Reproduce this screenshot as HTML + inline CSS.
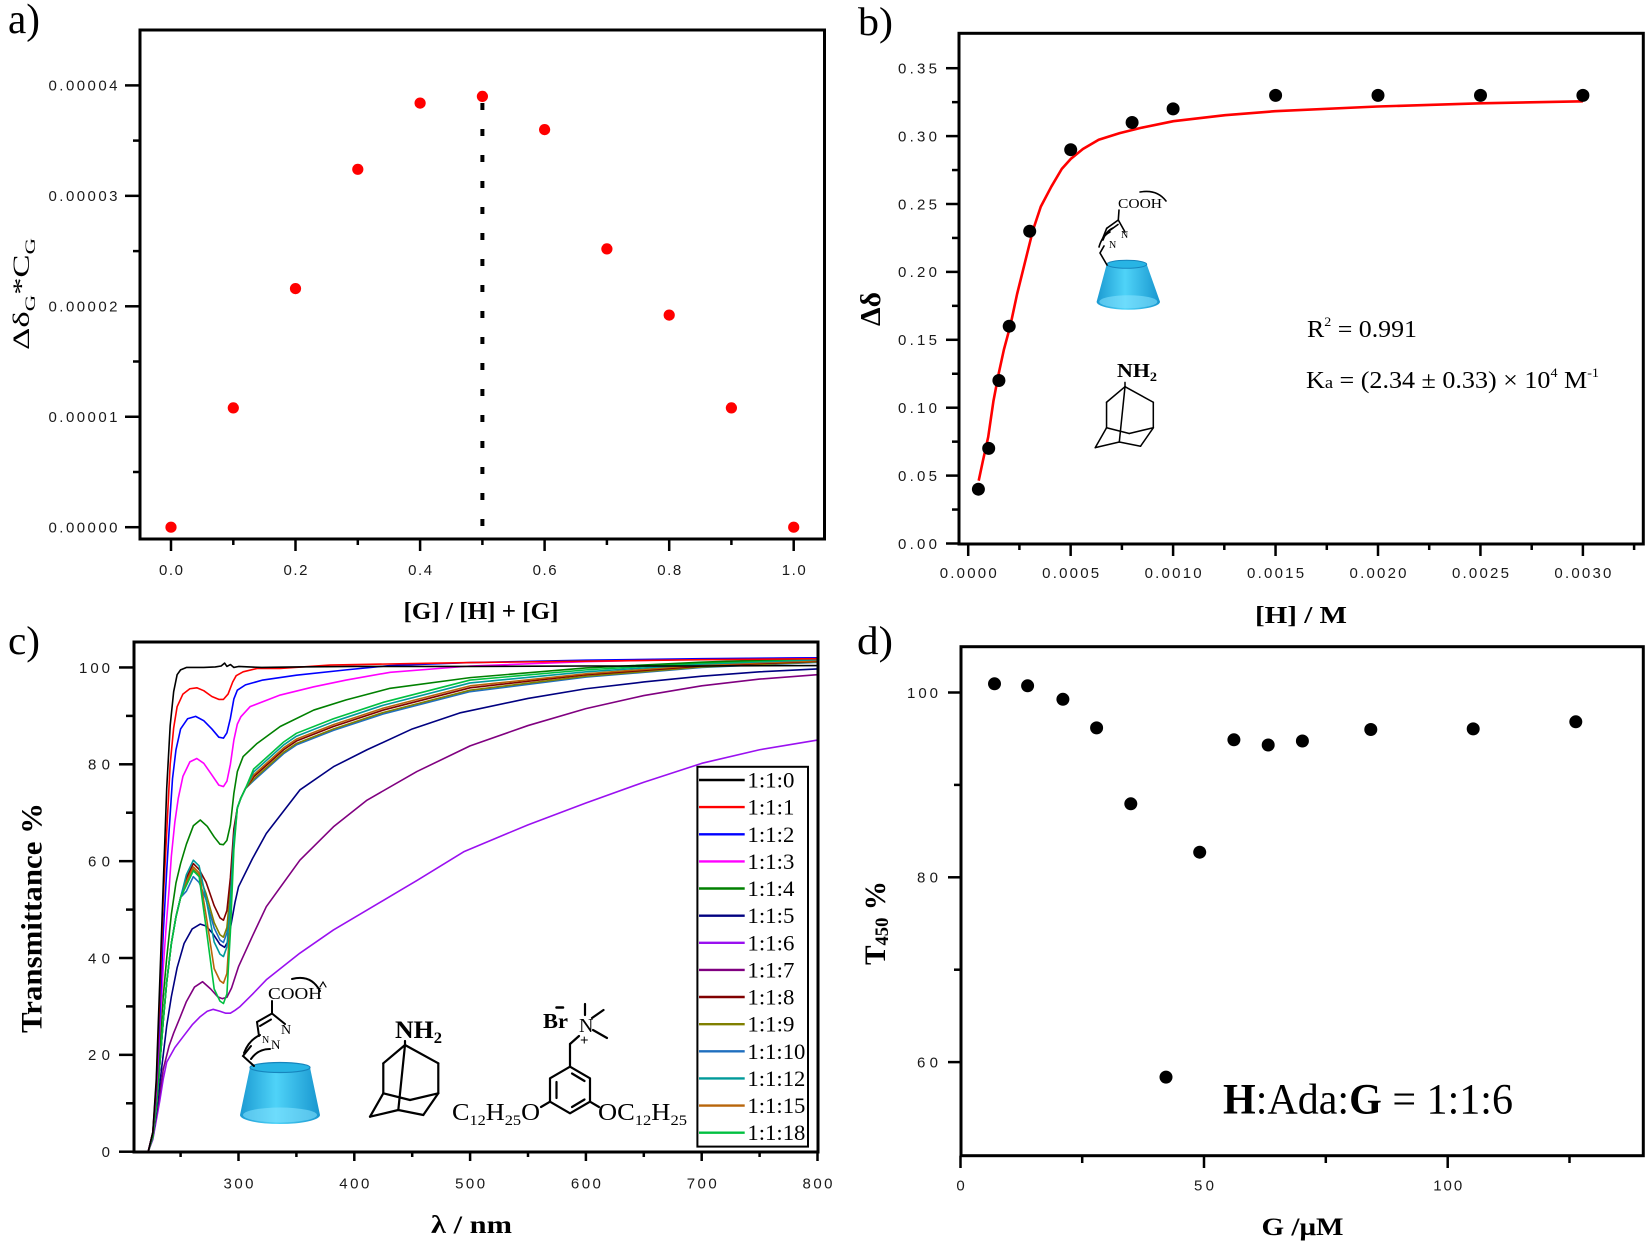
<!DOCTYPE html>
<html>
<head>
<meta charset="utf-8">
<style>
html,body{margin:0;padding:0;background:#fff;}
svg{display:block;}
.sp path{vector-effect:non-scaling-stroke;fill:none;stroke-width:1.6;stroke-linejoin:round;stroke-linecap:round;}
.tk{font-family:"Liberation Sans",Arial,sans-serif;fill:#1a1a1a;}
.sf{font-family:"Liberation Serif","Times New Roman",serif;fill:#000;}
</style>
</head>
<body>
<svg width="1650" height="1246" viewBox="0 0 1650 1246" xmlns="http://www.w3.org/2000/svg">
<defs>
<linearGradient id="cone" x1="0" x2="1" y1="0" y2="0">
<stop offset="0" stop-color="#1b9ad2"/>
<stop offset="0.45" stop-color="#4fd3f8"/>
<stop offset="1" stop-color="#1896cf"/>
</linearGradient>
</defs>
<rect width="1650" height="1246" fill="#fff"/>

<!-- ================= PANEL A ================= -->
<text class="sf" x="8" y="33" font-size="42" textLength="32" lengthAdjust="spacingAndGlyphs">a)</text>
<g stroke="#000" stroke-width="2.5">
<line x1="482.4" y1="103" x2="482.4" y2="527" stroke-width="4" stroke-dasharray="7 19"/>
</g>
<g fill="#ff0000">
<circle cx="171" cy="527.2" r="5.6"/>
<circle cx="233.3" cy="407.9" r="5.6"/>
<circle cx="295.5" cy="288.6" r="5.6"/>
<circle cx="357.8" cy="169.3" r="5.6"/>
<circle cx="420.1" cy="103.1" r="5.6"/>
<circle cx="482.4" cy="96.4" r="5.6"/>
<circle cx="544.6" cy="129.6" r="5.6"/>
<circle cx="606.9" cy="248.9" r="5.6"/>
<circle cx="669.2" cy="315.1" r="5.6"/>
<circle cx="731.4" cy="407.9" r="5.6"/>
<circle cx="793.7" cy="527.2" r="5.6"/>
</g>
<rect x="140" y="30" width="684.5" height="509" fill="none" stroke="#000" stroke-width="3"/>
<g stroke="#000" stroke-width="2.5">
<line x1="125" y1="527.2" x2="140" y2="527.2"/>
<line x1="125" y1="416.75" x2="140" y2="416.75"/>
<line x1="125" y1="306.3" x2="140" y2="306.3"/>
<line x1="125" y1="195.85" x2="140" y2="195.85"/>
<line x1="125" y1="85.4" x2="140" y2="85.4"/>
<line x1="133" y1="472" x2="140" y2="472"/>
<line x1="133" y1="361.5" x2="140" y2="361.5"/>
<line x1="133" y1="251.1" x2="140" y2="251.1"/>
<line x1="133" y1="140.6" x2="140" y2="140.6"/>
<line x1="171" y1="539" x2="171" y2="551"/>
<line x1="295.5" y1="539" x2="295.5" y2="551"/>
<line x1="420.1" y1="539" x2="420.1" y2="551"/>
<line x1="544.6" y1="539" x2="544.6" y2="551"/>
<line x1="669.2" y1="539" x2="669.2" y2="551"/>
<line x1="793.7" y1="539" x2="793.7" y2="551"/>
<line x1="233.3" y1="539" x2="233.3" y2="545"/>
<line x1="357.8" y1="539" x2="357.8" y2="545"/>
<line x1="482.4" y1="539" x2="482.4" y2="545"/>
<line x1="606.9" y1="539" x2="606.9" y2="545"/>
<line x1="731.4" y1="539" x2="731.4" y2="545"/>
</g>
<g class="tk" font-size="15" text-anchor="end">
<text x="117.5" y="532.5" textLength="69">0.00000</text>
<text x="117.5" y="422" textLength="69">0.00001</text>
<text x="117.5" y="311.6" textLength="69">0.00002</text>
<text x="117.5" y="201.1" textLength="69">0.00003</text>
<text x="117.5" y="90.7" textLength="69">0.00004</text>
</g>
<g class="tk" font-size="15" text-anchor="middle">
<text x="171" y="575" textLength="24">0.0</text>
<text x="295.5" y="575" textLength="24">0.2</text>
<text x="420.1" y="575" textLength="24">0.4</text>
<text x="544.6" y="575" textLength="24">0.6</text>
<text x="669.2" y="575" textLength="24">0.8</text>
<text x="793.7" y="575" textLength="24">1.0</text>
</g>
<text class="sf" x="481" y="619" font-size="24" font-weight="bold" text-anchor="middle" textLength="155" lengthAdjust="spacingAndGlyphs">[G] / [H] + [G]</text>
<text class="sf" transform="translate(29,350) rotate(-90)" font-size="23" textLength="112" lengthAdjust="spacingAndGlyphs">Δδ<tspan font-size="15" dy="6">G</tspan><tspan dy="-6">*C</tspan><tspan font-size="15" dy="6">G</tspan></text>

<!-- ================= PANEL B ================= -->
<text class="sf" x="858" y="35" font-size="40" textLength="35" lengthAdjust="spacingAndGlyphs">b)</text>
<polyline fill="none" stroke="#ff0000" stroke-width="2.6" stroke-linejoin="round" points="978.7,480.7 982.9,460.9 988.2,437 993.4,401.3 998.7,373.5 1003.9,349.6 1010.3,325.8 1017.1,294 1025,262.2 1032.9,230.4 1040.8,206.6 1051.3,186.7 1061.8,168.9 1070.8,158.9 1082.9,149 1098.7,139.8 1119.7,133.1 1140.8,127.9 1173.4,121.2 1225,115.2 1275,111.2 1377.6,106.5 1480.3,103.3 1582.9,101.3"/>
<g fill="#000">
<circle cx="978.4" cy="489.2" r="6.5"/>
<circle cx="988.7" cy="448.4" r="6.5"/>
<circle cx="998.9" cy="380.5" r="6.5"/>
<circle cx="1009.2" cy="326.2" r="6.5"/>
<circle cx="1029.7" cy="231.2" r="6.5"/>
<circle cx="1070.7" cy="149.7" r="6.5"/>
<circle cx="1132.1" cy="122.5" r="6.5"/>
<circle cx="1173.1" cy="108.9" r="6.5"/>
<circle cx="1275.6" cy="95.4" r="6.5"/>
<circle cx="1378" cy="95.4" r="6.5"/>
<circle cx="1480.5" cy="95.4" r="6.5"/>
<circle cx="1582.9" cy="95.4" r="6.5"/>
</g>
<rect x="959" y="33.3" width="684.3" height="510.7" fill="none" stroke="#000" stroke-width="3"/>
<g stroke="#000" stroke-width="2.5">
<line x1="946" y1="543.5" x2="959" y2="543.5"/>
<line x1="946" y1="475.6" x2="959" y2="475.6"/>
<line x1="946" y1="407.7" x2="959" y2="407.7"/>
<line x1="946" y1="339.8" x2="959" y2="339.8"/>
<line x1="946" y1="271.9" x2="959" y2="271.9"/>
<line x1="946" y1="204" x2="959" y2="204"/>
<line x1="946" y1="136.1" x2="959" y2="136.1"/>
<line x1="946" y1="68.2" x2="959" y2="68.2"/>
<line x1="952" y1="509.55" x2="959" y2="509.55"/>
<line x1="952" y1="441.65" x2="959" y2="441.65"/>
<line x1="952" y1="373.75" x2="959" y2="373.75"/>
<line x1="952" y1="305.85" x2="959" y2="305.85"/>
<line x1="952" y1="237.95" x2="959" y2="237.95"/>
<line x1="952" y1="170.05" x2="959" y2="170.05"/>
<line x1="952" y1="102.15" x2="959" y2="102.15"/>
<line x1="968.2" y1="544" x2="968.2" y2="556"/>
<line x1="1070.65" y1="544" x2="1070.65" y2="556"/>
<line x1="1173.1" y1="544" x2="1173.1" y2="556"/>
<line x1="1275.55" y1="544" x2="1275.55" y2="556"/>
<line x1="1378" y1="544" x2="1378" y2="556"/>
<line x1="1480.45" y1="544" x2="1480.45" y2="556"/>
<line x1="1582.9" y1="544" x2="1582.9" y2="556"/>
<line x1="1019.4" y1="544" x2="1019.4" y2="550"/>
<line x1="1121.9" y1="544" x2="1121.9" y2="550"/>
<line x1="1224.3" y1="544" x2="1224.3" y2="550"/>
<line x1="1326.8" y1="544" x2="1326.8" y2="550"/>
<line x1="1429.2" y1="544" x2="1429.2" y2="550"/>
<line x1="1531.7" y1="544" x2="1531.7" y2="550"/>
<line x1="1634.1" y1="544" x2="1634.1" y2="550"/>
</g>
<g class="tk" font-size="15" text-anchor="end">
<text x="937" y="548.8" textLength="39">0.00</text>
<text x="937" y="480.9" textLength="39">0.05</text>
<text x="937" y="413" textLength="39">0.10</text>
<text x="937" y="345.1" textLength="39">0.15</text>
<text x="937" y="277.2" textLength="39">0.20</text>
<text x="937" y="209.3" textLength="39">0.25</text>
<text x="937" y="141.4" textLength="39">0.30</text>
<text x="937" y="73.5" textLength="39">0.35</text>
</g>
<g class="tk" font-size="15" text-anchor="middle">
<text x="968.2" y="578" textLength="57">0.0000</text>
<text x="1070.65" y="578" textLength="57">0.0005</text>
<text x="1173.1" y="578" textLength="57">0.0010</text>
<text x="1275.55" y="578" textLength="57">0.0015</text>
<text x="1378" y="578" textLength="57">0.0020</text>
<text x="1480.45" y="578" textLength="57">0.0025</text>
<text x="1582.9" y="578" textLength="57">0.0030</text>
</g>
<text class="sf" x="1301" y="623" font-size="24" font-weight="bold" text-anchor="middle" textLength="92" lengthAdjust="spacingAndGlyphs">[H] / M</text>
<text class="sf" transform="translate(880,326) rotate(-90)" font-size="28" font-weight="bold" textLength="34" lengthAdjust="spacingAndGlyphs">Δδ</text>
<text class="sf" x="1307" y="337" font-size="24" textLength="110" lengthAdjust="spacingAndGlyphs">R<tspan font-size="13" dy="-11">2</tspan><tspan dy="11"> = 0.991</tspan></text>
<text class="sf" x="1306" y="388" font-size="24" textLength="293" lengthAdjust="spacingAndGlyphs">K<tspan font-size="17">a</tspan> = (2.34 ± 0.33) × 10<tspan font-size="13" dy="-11">4</tspan><tspan dy="11"> M</tspan><tspan font-size="13" dy="-11">-1</tspan></text>

<!-- b molecules: CD -->
<path d="M1106.7,264.3 L1096.6,301.7 A31.7,8 0 0 0 1160,301.7 L1146.7,264.3 A20,4 0 0 0 1106.7,264.3 Z" fill="url(#cone)"/>
<ellipse cx="1128.3" cy="301.7" rx="29" ry="6.5" fill="#86e4ff" opacity="0.55"/>
<ellipse cx="1126.7" cy="264.3" rx="20" ry="4" fill="#28b4e4" stroke="#1685bd" stroke-width="1"/>
<g stroke="#000" stroke-width="1.6" fill="none" stroke-linecap="round">
<polyline points="1107,265 1100,253 1104,246"/>
<path d="M1099,247 Q1102,236 1110,232"/>
<path d="M1103,240 Q1106,231 1113,228"/>
<line x1="1106.7" y1="228.3" x2="1118.3" y2="220"/>
<line x1="1109" y1="231" x2="1118" y2="224.5"/>
<line x1="1118.3" y1="220" x2="1125" y2="232"/>
<line x1="1106.7" y1="228.3" x2="1102" y2="240"/>
<line x1="1118.3" y1="220" x2="1119" y2="210"/>
<path d="M1140,192 Q1157,189 1166,201"/>
</g>
<text class="sf" x="1118" y="208" font-size="14" textLength="44" lengthAdjust="spacingAndGlyphs">COOH</text>
<text class="sf" x="1121" y="238" font-size="10">N</text>
<text class="sf" x="1109" y="248" font-size="10">N</text>
<!-- b adamantane -->
<text class="sf" x="1117" y="377" font-size="20" font-weight="bold" textLength="40" lengthAdjust="spacingAndGlyphs">NH<tspan font-size="13" dy="4">2</tspan></text>
<g stroke="#000" stroke-width="1.8" fill="none" stroke-linecap="round" stroke-linejoin="round" transform="translate(1125,386.7) scale(0.85)">
<line x1="0" y1="0" x2="-21.7" y2="18.3"/>
<line x1="0" y1="0" x2="33.3" y2="18.3"/>
<line x1="0" y1="0" x2="-6.7" y2="65"/>
<line x1="-21.7" y1="18.3" x2="-21.7" y2="48.3"/>
<line x1="33.3" y1="18.3" x2="33.3" y2="48.3"/>
<line x1="-21.7" y1="48.3" x2="5" y2="55"/>
<line x1="5" y1="55" x2="33.3" y2="48.3"/>
<line x1="-21.7" y1="48.3" x2="-35" y2="71.7"/>
<line x1="-35" y1="71.7" x2="-6.7" y2="65"/>
<line x1="-6.7" y1="65" x2="18.3" y2="70"/>
<line x1="18.3" y1="70" x2="33.3" y2="48.3"/>
<line x1="0" y1="0" x2="0" y2="-5"/>
</g>

<!-- ================= PANEL C ================= -->
<text class="sf" x="8" y="654" font-size="40" textLength="32" lengthAdjust="spacingAndGlyphs">c)</text>
<g class="sp" transform="matrix(1.158,0,0,-4.8425,-108.9,1151.7)">
<path stroke="#9a10f0" d="M222,0 L226,2.5 229,6.5 232,10.5 235,15 238,18.5 245,21.5 252,23.7 260,26.2 267,27.9 273,29 278,29.4 284,29 289,28.6 293,28.6 297,29.2 301,29.9 312,32.5 324,35.5 353,41 382,45.8 411,49.9 454,56 495,62 550,67.5 600,72 650,76.3 700,80.2 750,83 800,85"/>
<path stroke="#800080" d="M222,0 L226,3 229,7.5 232,12 235,17 240,21.8 244,24.5 250,28 255,31 262,34 269,35.1 276,33.6 282,32 286,31.6 290,31.9 294,33.8 300,38.2 312,44.5 324,50.6 353,60.2 382,67.1 411,72.6 454,78.5 500,83.8 550,88 600,91.5 650,94.2 700,96.2 750,97.6 800,98.5"/>
<path stroke="#000080" d="M222,0 L226,3 229,8 232,14 235,20 238,26 242,32 247,38 253,43 260,46 267,47 272,46.6 278,45 284,42.8 288,42.2 291,43.5 294,47.5 297,51.5 300,54.7 312,60.5 324,65.7 353,74.7 382,79.5 411,83 450,87.3 491,90.6 550,93.6 600,95.6 650,97 700,98.2 750,99.1 800,99.7"/>
<path stroke="#1f6fbf" d="M222,0 L226,3 229,9 232,18 235,27 238,35 242,43 246,48.5 250,52.5 255,53.8 261,56.8 266,55.6 272,52 279,46.2 284,43.7 287,43.2 290,45.2 293,53.6 296,65.55 299,71 302,73 306,75 313,76.6 339,82.2 350,84 382,87 425,90.4 500,95 600,98 700,100 800,101.06"/>
<path stroke="#808000" d="M222,0 L226,3 229,9 232,18 235,27 238,35 242,43 246,48.5 250,52.5 255,55.3 261,58.3 266,57.1 272,53.3 279,47.3 284,44.8 287,44.3 290,46.3 293,54.3 296,65.8 299,71 302,73 306,75 313,76.9 339,82.5 350,84.3 382,87.3 425,90.7 500,95.3 600,98.2 700,100.1 800,101.15"/>
<path stroke="#800000" d="M222,0 L226,3 229,9 232,18 235,27 238,35 242,43 246,48.5 250,52.5 255,56.5 261,59.5 266,58.3 272,55.65 279,50.8 284,48.3 287,47.8 290,49.8 293,56.6 296,66.7 299,71 302,73 306,75 313,77.4 339,83 350,84.8 382,87.8 425,91.2 500,95.8 600,98.5 700,100.3 800,101.3"/>
<path stroke="#b8650a" d="M222,0 L226,3 229,9 232,18 235,27 238,35 242,43 246,48.5 250,52.5 255,55.8 261,58.8 266,57.6 272,48.8 279,37.8 284,35.3 287,34.8 290,36.8 293,48.2 296,63.45 299,71 302,73 306,75 313,77.8 339,83.4 350,85.2 382,88.2 425,91.6 500,96.2 600,98.7 700,100.5 800,101.4"/>
<path stroke="#009a9a" d="M222,0 L226,3 229,9 232,18 235,27 238,35 242,43 246,48.5 250,52.5 255,57.2 261,60.2 266,59 272,52.25 279,43.3 284,40.8 287,40.3 290,42.3 293,51.7 296,64.8 299,71 302,73 306,75 313,78.4 339,84 350,85.8 382,88.8 425,92.2 500,96.8 600,99.1 700,100.7 800,101.6"/>
<path stroke="#00c040" d="M222,0 L226,3 229,9 232,18 235,27 238,35 242,43 246,48.5 250,52.5 255,55 261,58 266,56.8 272,46.3 279,33.6 284,31.1 287,30.6 290,32.6 293,45.4 296,62.4 299,71 302,73 306,75 313,79 339,84.6 350,86.4 382,89.4 425,92.8 500,97.4 600,99.5 700,100.9 800,101.8"/>
<path stroke="#008000" d="M222,0 L226,3.5 229,11 232,22 235,32 238,40 242,49 246,55.5 250,59.5 255,63.5 261,67.3 267,68.5 273,67.2 279,65 284,63.5 287,63.4 290,64.3 293,67.5 296,74 299,78.5 304,81.6 316,84.3 336,87.8 365,91.2 393,93.3 431,95.7 500,97.9 600,99.9 700,101.1 800,101.9"/>
<path stroke="#ff00ff" d="M222,0 L226,4 229,12 232,25 235,38 238,48 240,54 242,61 245,68 248,73 252,77.5 258,80.5 264,81.2 270,80.2 277,77.8 283,75.7 287,75.4 290,76.5 293,80 296,85 299,88.3 302,89.8 310,91.9 336,94.3 365,96 393,97.4 431,99 500,100.3 600,101.2 700,101.7 800,102"/>
<path stroke="#0000ff" d="M222,0 L226,4 229,13 232,28 235,45 238,58 240,66 243,77 246,83 250,87.3 256,89.4 263,89.9 270,89 277,87.3 283,85.6 287,85.4 290,86.5 293,89.5 296,93.5 299,95.3 306,96.4 321,97.4 350,98.4 393,99.5 431,100.4 500,101 600,101.5 700,101.8 800,102"/>
<path stroke="#ff0000" d="M222,0 L226,4 229,14 232,32 235,52 238,66 241,80 244,87.5 247,91.9 252,94.5 258,95.6 264,95.8 270,95.2 277,94 283,93.4 287,93.4 291,94.5 295,97 298,98.3 304,99.1 316,99.8 336,99.8 379,100.5 450,100.8 500,101 600,101.3 700,101.6 800,101.8"/>
<path stroke="#000000" d="M222,0 L226,4 229,15 232,35 235,55 238,75 241,88 244,95 247,98.5 250,99.5 255,100 270,100 280,100.1 285,100.3 288,100.9 290,100.2 293,100.6 296,100 300,100.2 320,100 350,100.1 400,100.2 500,100.2 600,100.3 700,100.3 800,100.4"/>
</g>
<rect x="134" y="642" width="684" height="510" fill="none" stroke="#000" stroke-width="3"/>
<g stroke="#000" stroke-width="2.5">
<line x1="119" y1="1151.7" x2="134" y2="1151.7"/>
<line x1="119" y1="1054.85" x2="134" y2="1054.85"/>
<line x1="119" y1="958" x2="134" y2="958"/>
<line x1="119" y1="861.15" x2="134" y2="861.15"/>
<line x1="119" y1="764.3" x2="134" y2="764.3"/>
<line x1="119" y1="667.45" x2="134" y2="667.45"/>
<line x1="126" y1="1103.3" x2="134" y2="1103.3"/>
<line x1="126" y1="1006.4" x2="134" y2="1006.4"/>
<line x1="126" y1="909.6" x2="134" y2="909.6"/>
<line x1="126" y1="812.7" x2="134" y2="812.7"/>
<line x1="126" y1="715.9" x2="134" y2="715.9"/>
<line x1="238.5" y1="1152" x2="238.5" y2="1161"/>
<line x1="354.3" y1="1152" x2="354.3" y2="1161"/>
<line x1="470.1" y1="1152" x2="470.1" y2="1161"/>
<line x1="585.9" y1="1152" x2="585.9" y2="1161"/>
<line x1="701.7" y1="1152" x2="701.7" y2="1161"/>
<line x1="817.5" y1="1152" x2="817.5" y2="1161"/>
<line x1="180.6" y1="1152" x2="180.6" y2="1157"/>
<line x1="296.4" y1="1152" x2="296.4" y2="1157"/>
<line x1="412.2" y1="1152" x2="412.2" y2="1157"/>
<line x1="528" y1="1152" x2="528" y2="1157"/>
<line x1="643.8" y1="1152" x2="643.8" y2="1157"/>
<line x1="759.6" y1="1152" x2="759.6" y2="1157"/>
</g>
<g class="tk" font-size="15" text-anchor="end">
<text x="110" y="1157">0</text>
<text x="110" y="1060.2" textLength="22">20</text>
<text x="110" y="963.3" textLength="22">40</text>
<text x="110" y="866.5" textLength="22">60</text>
<text x="110" y="769.6" textLength="22">80</text>
<text x="110" y="672.8" textLength="31">100</text>
</g>
<g class="tk" font-size="15" text-anchor="middle">
<text x="238.5" y="1188.5" textLength="30">300</text>
<text x="354.3" y="1188.5" textLength="30">400</text>
<text x="470.1" y="1188.5" textLength="30">500</text>
<text x="585.9" y="1188.5" textLength="30">600</text>
<text x="701.7" y="1188.5" textLength="30">700</text>
<text x="817.5" y="1188.5" textLength="30">800</text>
</g>
<text class="sf" x="471.5" y="1233" font-size="25" font-weight="bold" text-anchor="middle" textLength="81" lengthAdjust="spacingAndGlyphs">λ / nm</text>
<text class="sf" transform="translate(41.5,1033) rotate(-90)" font-size="30" font-weight="bold" textLength="230" lengthAdjust="spacingAndGlyphs">Transmittance %</text>

<!-- legend -->
<rect x="697.4" y="766.8" width="110.6" height="379.8" fill="#fff" stroke="#000" stroke-width="2"/>
<g stroke-width="2.4">
<line x1="699" y1="780" x2="744.7" y2="780" stroke="#000000"/>
<line x1="699" y1="807.1" x2="744.7" y2="807.1" stroke="#ff0000"/>
<line x1="699" y1="834.3" x2="744.7" y2="834.3" stroke="#0000ff"/>
<line x1="699" y1="861.4" x2="744.7" y2="861.4" stroke="#ff00ff"/>
<line x1="699" y1="888.5" x2="744.7" y2="888.5" stroke="#008000"/>
<line x1="699" y1="915.7" x2="744.7" y2="915.7" stroke="#000080"/>
<line x1="699" y1="942.8" x2="744.7" y2="942.8" stroke="#9a10f0"/>
<line x1="699" y1="969.9" x2="744.7" y2="969.9" stroke="#800080"/>
<line x1="699" y1="997" x2="744.7" y2="997" stroke="#800000"/>
<line x1="699" y1="1024.2" x2="744.7" y2="1024.2" stroke="#808000"/>
<line x1="699" y1="1051.3" x2="744.7" y2="1051.3" stroke="#1f6fbf"/>
<line x1="699" y1="1078.4" x2="744.7" y2="1078.4" stroke="#009a9a"/>
<line x1="699" y1="1105.6" x2="744.7" y2="1105.6" stroke="#b8650a"/>
<line x1="699" y1="1132.7" x2="744.7" y2="1132.7" stroke="#00c040"/>
</g>
<g class="sf" font-size="22">
<text x="747.4" y="787.5" textLength="47" lengthAdjust="spacingAndGlyphs">1:1:0</text>
<text x="747.4" y="814.6" textLength="47" lengthAdjust="spacingAndGlyphs">1:1:1</text>
<text x="747.4" y="841.8" textLength="47" lengthAdjust="spacingAndGlyphs">1:1:2</text>
<text x="747.4" y="868.9" textLength="47" lengthAdjust="spacingAndGlyphs">1:1:3</text>
<text x="747.4" y="896" textLength="47" lengthAdjust="spacingAndGlyphs">1:1:4</text>
<text x="747.4" y="923.2" textLength="47" lengthAdjust="spacingAndGlyphs">1:1:5</text>
<text x="747.4" y="950.3" textLength="47" lengthAdjust="spacingAndGlyphs">1:1:6</text>
<text x="747.4" y="977.4" textLength="47" lengthAdjust="spacingAndGlyphs">1:1:7</text>
<text x="747.4" y="1004.5" textLength="47" lengthAdjust="spacingAndGlyphs">1:1:8</text>
<text x="747.4" y="1031.7" textLength="47" lengthAdjust="spacingAndGlyphs">1:1:9</text>
<text x="747.4" y="1058.8" textLength="58" lengthAdjust="spacingAndGlyphs">1:1:10</text>
<text x="747.4" y="1085.9" textLength="58" lengthAdjust="spacingAndGlyphs">1:1:12</text>
<text x="747.4" y="1113.1" textLength="58" lengthAdjust="spacingAndGlyphs">1:1:15</text>
<text x="747.4" y="1140.2" textLength="58" lengthAdjust="spacingAndGlyphs">1:1:18</text>
</g>

<!-- c molecules: CD -->
<path d="M250,1067.5 L240,1115 A40,9 0 0 0 320,1115 L310,1067.5 A30,5 0 0 0 250,1067.5 Z" fill="url(#cone)"/>
<ellipse cx="280" cy="1115" rx="37" ry="7.5" fill="#86e4ff" opacity="0.55"/>
<ellipse cx="280" cy="1067.5" rx="30" ry="5" fill="#28b4e4" stroke="#1685bd" stroke-width="1.2"/>
<g stroke="#000" stroke-width="2" fill="none" stroke-linecap="round">
<polyline points="254,1066 243,1056 251,1046"/>
<path d="M244,1053 Q249,1040 260,1035"/>
<path d="M251,1059 Q258,1049 270,1049"/>
<line x1="257" y1="1022" x2="272" y2="1013.5"/>
<line x1="260" y1="1026" x2="271" y2="1019.5"/>
<line x1="272" y1="1013.5" x2="285" y2="1024"/>
<line x1="257" y1="1022" x2="259" y2="1036"/>
<line x1="272" y1="1013.5" x2="272" y2="1001"/>
<path d="M292,979 Q311,974 320,991"/>
<path d="M320,987 L323,982 L326,987" stroke-width="1.2"/>
</g>
<text class="sf" x="268" y="999" font-size="17" textLength="54" lengthAdjust="spacingAndGlyphs">COOH</text>
<text class="sf" x="281" y="1034" font-size="14">N</text>
<text class="sf" x="271" y="1049" font-size="13">N</text>
<text class="sf" x="262" y="1043" font-size="10">N</text>
<!-- c adamantane -->
<text class="sf" x="395" y="1038" font-size="25" font-weight="bold" textLength="47" lengthAdjust="spacingAndGlyphs">NH<tspan font-size="16" dy="5">2</tspan></text>
<g stroke="#000" stroke-width="2.2" fill="none" stroke-linecap="round" stroke-linejoin="round" transform="translate(405,1045)">
<line x1="0" y1="0" x2="-21.7" y2="18.3"/>
<line x1="0" y1="0" x2="33.3" y2="18.3"/>
<line x1="0" y1="0" x2="-6.7" y2="65"/>
<line x1="-21.7" y1="18.3" x2="-21.7" y2="48.3"/>
<line x1="33.3" y1="18.3" x2="33.3" y2="48.3"/>
<line x1="-21.7" y1="48.3" x2="5" y2="55"/>
<line x1="5" y1="55" x2="33.3" y2="48.3"/>
<line x1="-21.7" y1="48.3" x2="-35" y2="71.7"/>
<line x1="-35" y1="71.7" x2="-6.7" y2="65"/>
<line x1="-6.7" y1="65" x2="18.3" y2="70"/>
<line x1="18.3" y1="70" x2="33.3" y2="48.3"/>
<line x1="0" y1="0" x2="0" y2="-4"/>
</g>
<!-- c ammonium -->
<g stroke="#000" stroke-width="2.2" fill="none" stroke-linecap="round" stroke-linejoin="round">
<polygon points="570,1066.7 590,1078.3 590,1101.7 570,1113.3 550,1101.7 550,1078.3"/>
<line x1="556.5" y1="1082" x2="556.5" y2="1098"/>
<line x1="572" y1="1073.5" x2="584.5" y2="1081"/>
<line x1="572" y1="1107" x2="584.5" y2="1099.5"/>
<line x1="570" y1="1066.7" x2="570" y2="1044"/>
<line x1="570" y1="1044" x2="579" y2="1036"/>
<line x1="585" y1="1004" x2="585" y2="1015"/>
<line x1="592" y1="1018" x2="603.5" y2="1010"/>
<line x1="593" y1="1030" x2="607" y2="1038"/>
<line x1="550" y1="1101.7" x2="541" y2="1107"/>
<line x1="590" y1="1101.7" x2="599" y2="1107"/>
<line x1="556.5" y1="1007.5" x2="563" y2="1007.5" stroke-width="2.5"/>
</g>
<text class="sf" x="543" y="1028" font-size="21" font-weight="bold" textLength="25" lengthAdjust="spacingAndGlyphs">Br</text>
<text class="sf" x="579" y="1032" font-size="20">N</text>
<text class="sf" x="580" y="1045" font-size="15" font-weight="bold">+</text>
<text class="sf" x="452" y="1120" font-size="24" textLength="88" lengthAdjust="spacingAndGlyphs">C<tspan font-size="15" dy="5">12</tspan><tspan dy="-5">H</tspan><tspan font-size="15" dy="5">25</tspan><tspan dy="-5">O</tspan></text>
<text class="sf" x="598" y="1120" font-size="24" textLength="89" lengthAdjust="spacingAndGlyphs">OC<tspan font-size="15" dy="5">12</tspan><tspan dy="-5">H</tspan><tspan font-size="15" dy="5">25</tspan></text>

<!-- ================= PANEL D ================= -->
<text class="sf" x="857" y="654" font-size="40" textLength="36" lengthAdjust="spacingAndGlyphs">d)</text>
<g fill="#000">
<circle cx="994.5" cy="683.8" r="6.5"/>
<circle cx="1027.6" cy="685.8" r="6.5"/>
<circle cx="1062.9" cy="699.3" r="6.5"/>
<circle cx="1096.6" cy="727.9" r="6.5"/>
<circle cx="1130.8" cy="803.8" r="6.5"/>
<circle cx="1166" cy="1077.1" r="6.5"/>
<circle cx="1199.7" cy="852.2" r="6.5"/>
<circle cx="1233.9" cy="739.8" r="6.5"/>
<circle cx="1268.2" cy="745" r="6.5"/>
<circle cx="1302.4" cy="741" r="6.5"/>
<circle cx="1370.8" cy="729.5" r="6.5"/>
<circle cx="1473.2" cy="728.9" r="6.5"/>
<circle cx="1575.8" cy="721.8" r="6.5"/>
</g>
<rect x="961" y="646.7" width="682.3" height="509" fill="none" stroke="#000" stroke-width="3"/>
<g stroke="#000" stroke-width="2.5">
<line x1="948" y1="1062.1" x2="961" y2="1062.1"/>
<line x1="948" y1="877.3" x2="961" y2="877.3"/>
<line x1="948" y1="692.5" x2="961" y2="692.5"/>
<line x1="954" y1="969.7" x2="961" y2="969.7"/>
<line x1="954" y1="784.9" x2="961" y2="784.9"/>
<line x1="960.5" y1="1155.7" x2="960.5" y2="1168"/>
<line x1="1204" y1="1155.7" x2="1204" y2="1168"/>
<line x1="1447.7" y1="1155.7" x2="1447.7" y2="1168"/>
<line x1="1082.2" y1="1155.7" x2="1082.2" y2="1163"/>
<line x1="1325.8" y1="1155.7" x2="1325.8" y2="1163"/>
<line x1="1569.5" y1="1155.7" x2="1569.5" y2="1163"/>
</g>
<g class="tk" font-size="15" text-anchor="end">
<text x="938" y="1067.4" textLength="21">60</text>
<text x="938" y="882.6" textLength="21">80</text>
<text x="938" y="697.8" textLength="31">100</text>
</g>
<g class="tk" font-size="15" text-anchor="middle">
<text x="960.5" y="1190.5">0</text>
<text x="1204" y="1190.5" textLength="20">50</text>
<text x="1447.7" y="1190.5" textLength="29">100</text>
</g>
<text class="sf" x="1302.5" y="1235" font-size="25" font-weight="bold" text-anchor="middle" textLength="82" lengthAdjust="spacingAndGlyphs">G /μM</text>
<text class="sf" transform="translate(885,965) rotate(-90)" font-size="30" font-weight="bold" textLength="84" lengthAdjust="spacingAndGlyphs">T<tspan font-size="19" dy="3">450</tspan><tspan dy="-3"> %</tspan></text>
<text class="sf" x="1223" y="1113.3" font-size="43" textLength="290" lengthAdjust="spacingAndGlyphs"><tspan font-weight="bold">H</tspan>:Ada:<tspan font-weight="bold">G</tspan> = 1:1:6</text>
</svg>
</body>
</html>
